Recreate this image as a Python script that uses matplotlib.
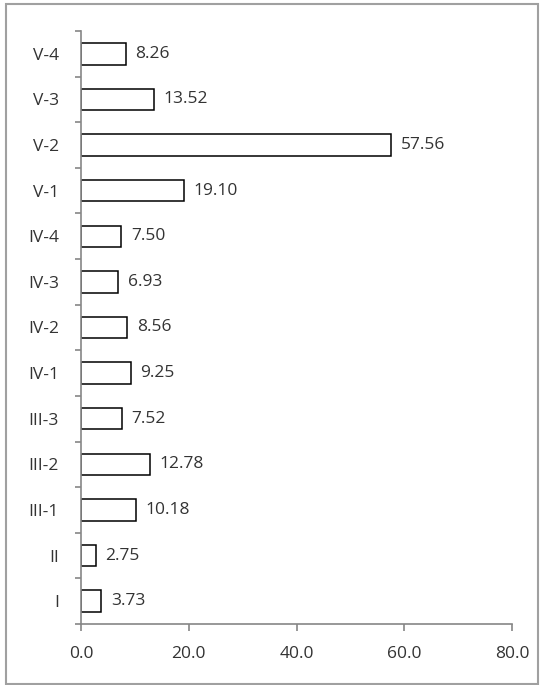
import numpy as np
import matplotlib
matplotlib.use('Agg')
import matplotlib.pyplot as plt
from matplotlib.patches import Rectangle

labels = ['I', 'II', 'III-1', 'III-2', 'III-3', 'IV-1', 'IV-2', 'IV-3', 'IV-4',
          'V-1', 'V-2', 'V-3', 'V-4']
values = [3.73, 2.75, 10.18, 12.78, 7.52, 9.25, 8.56, 6.93, 7.50,
          19.10, 57.56, 13.52, 8.26]
xticks = [0, 20, 40, 60, 80]

plt.rcParams['font.family'] = ['Open Sans', 'DejaVu Sans']
plt.rcParams['font.size'] = 12.5

fig = plt.figure(figsize=(5.4, 6.85), dpi=100)
ax = fig.add_axes([81 / 540, 61 / 685, 431 / 540, 593 / 685])

pos = np.arange(len(labels))
ax.barh(pos, values, height=0.47, color='white', edgecolor='black', linewidth=1.1)
for p, v in zip(pos, values):
    ax.text(v + 1.8, p, f'{v:.2f}', va='center', ha='left', color='#333333')

ax.set_xlim(0, 80)
ax.set_ylim(-0.5, len(labels) - 0.5)
ax.set_xticks(xticks)
ax.set_xticklabels([f'{t:.1f}' for t in xticks])
ax.set_yticks(pos)
ax.set_yticklabels(labels)
ax.set_yticks(np.arange(-0.5, len(labels)), minor=True)

for s in ['top', 'right']:
    ax.spines[s].set_visible(False)
for s in ['left', 'bottom']:
    ax.spines[s].set_color('#868686')
    ax.spines[s].set_linewidth(1.2)

ax.tick_params(axis='y', which='major', length=0, pad=16, colors='#333333')
ax.tick_params(axis='y', which='minor', length=4.5, width=1.2, color='#868686')
ax.tick_params(axis='x', which='major', length=5, width=1.2, color='#868686',
               pad=11, labelcolor='#333333')

fig.patches.append(Rectangle((6 / 540, 1 / 685), 532 / 540, 680 / 685,
                             transform=fig.transFigure, fill=False,
                             edgecolor='#a0a0a0', linewidth=1.5))

fig.savefig('out.png', dpi=100)
